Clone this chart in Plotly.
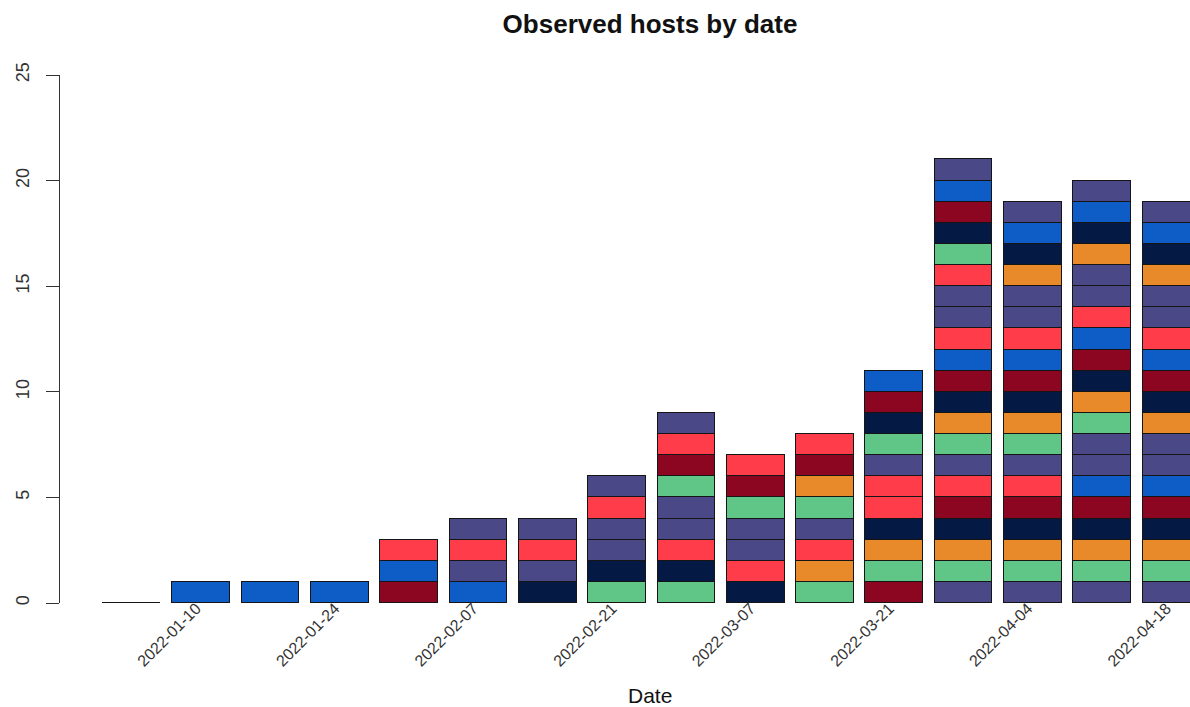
import plotly.graph_objects as go

# Weekly observation dates
dates = [
    "2022-01-03", "2022-01-10", "2022-01-17", "2022-01-24", "2022-01-31",
    "2022-02-07", "2022-02-14", "2022-02-21", "2022-02-28", "2022-03-07",
    "2022-03-14", "2022-03-21", "2022-03-28", "2022-04-04", "2022-04-11",
    "2022-04-18",
]

# Hosts observed each week, one code per host, listed bottom to top
stacks = [
    "",
    "B",
    "B",
    "B",
    "DBR",
    "BSRS",
    "NSRS",
    "GNSSRS",
    "GNRSSGDRS",
    "NRSSGDR",
    "GORSGODR",
    "DGONRRSGNDB",
    "SGONDRSGONDBRSSRGNDBS",
    "SGONDRSGONDBRSSONBS",
    "SGONDBSSGONDBRSSONBS",
    "SGONDBSSONDBRSSONBS",
]

# Host group colours
palette = {
    "S": "#4B4888",  # slate
    "B": "#0E5CC6",  # blue
    "R": "#FF3C4A",  # red
    "D": "#8C0622",  # dark red
    "N": "#041A45",  # navy
    "G": "#60C687",  # green
    "O": "#E98A2A",  # orange
}

tick_dates = dates[1::2]
y_ticks = [0, 5, 10, 15, 20, 25]

FONT = "Liberation Sans, Arial, Helvetica, sans-serif"

fig = go.Figure()

max_height = max(len(s) for s in stacks)
for level in range(max_height):
    ys, cols = [], []
    for s in stacks:
        if len(s) > level:
            ys.append(1)
            cols.append(palette[s[level]])
        elif level == 0:
            ys.append(0)  # empty week still drawn as a flat outline
            cols.append("#111111")
        else:
            ys.append(None)
            cols.append("#111111")
    fig.add_trace(go.Bar(
        x=dates, y=ys, width=1 / 1.2,
        marker=dict(color=cols, line=dict(color="#151515", width=1.2)),
        showlegend=False, hoverinfo="skip",
    ))

px_per_bar = 69.3
left_px = 72  # distance from axis line to first bar centre
plot_w = 1130
x0 = -left_px / px_per_bar
x1 = x0 + plot_w / px_per_bar

fig.update_layout(
    width=1190, height=707,
    barmode="stack", bargap=0,
    paper_bgcolor="white", plot_bgcolor="white",
    margin=dict(l=60, r=0, t=75, b=104),
    font=dict(family=FONT, color="#222222"),
    title=dict(
        text="<b>Observed hosts by date</b>",
        x=650 / 1190, xref="container", xanchor="center",
        y=1 - 24 / 707, yref="container", yanchor="middle",
        font=dict(size=26, color="#111111", family=FONT),
    ),
    xaxis=dict(
        type="category", range=[x0, x1],
        showline=False, showgrid=False, zeroline=False,
        ticks="", tickmode="array", tickvals=tick_dates, ticktext=tick_dates,
        tickangle=-45, tickfont=dict(size=16, color="#333333"),
        ticklabelstandoff=-8, ticklabelshift=-5,
    ),
    yaxis=dict(
        range=[0, 25], showgrid=False, zeroline=False,
        showline=True, linecolor="#333333", linewidth=1.2,
        ticks="outside", ticklen=13, tickwidth=1.2, tickcolor="#333333",
        tickmode="array", tickvals=y_ticks,
        tickangle=-90, tickfont=dict(size=18, color="#333333"),
        ticklabelstandoff=10,
    ),
    annotations=[dict(
        text="Date", xref="paper", yref="paper",
        x=(650 - 60) / plot_w, y=-(695 - 603) / 528,
        xanchor="center", yanchor="middle", showarrow=False,
        font=dict(size=21, color="#111111", family=FONT),
    )],
)

fig.write_html("out.html")
